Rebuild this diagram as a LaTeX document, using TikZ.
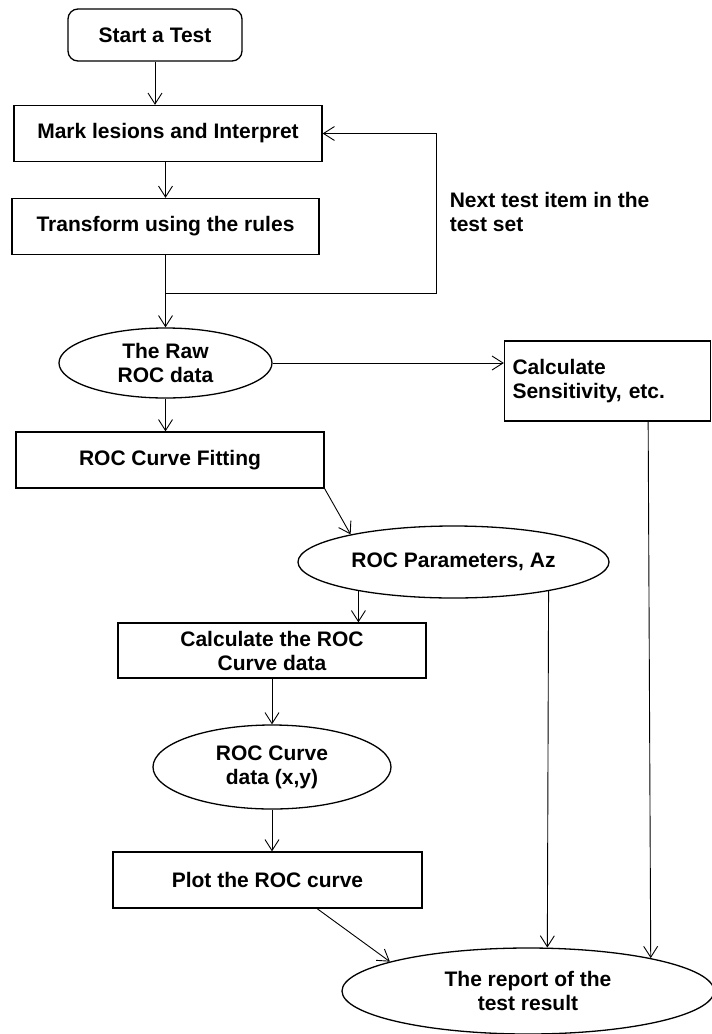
\documentclass[tikz,border=0pt]{standalone}
\usepackage{fontspec}
\setmainfont{Liberation Sans}
\usetikzlibrary{shapes.geometric,arrows.meta}
\tikzset{
	box/.style={draw, line width=1.3pt, minimum width=#1, minimum height=56pt, inner sep=2pt, align=center},
	startbox/.style={draw, line width=1.3pt, rounded corners=10pt, minimum width=174pt, minimum height=52pt},
	oval/.style 2 args={ellipse, draw, line width=1.3pt, minimum width=#1, minimum height=#2, inner sep=0pt, align=center},
}
\begin{document}
\begin{tikzpicture}[x=1pt,y=-1pt, line width=0.9pt, >={Straight Barb[length=11pt,width=14pt]},
		font=\fontsize{21}{24}\selectfont\bfseries]
			\useasboundingbox (0,0) rectangle (712,1034);
			% steps
			\node[startbox] (start) at (155,35) {Start a Test};
			\node[box=308pt] (mark) at (168,133.5) {Mark lesions and Interpret};
			\node[box=307pt] (transform) at (165.5,226.5) {Transform using the rules};
			\node[oval={213pt}{70pt}] (raw) at (165.5,363) {The Raw\\ROC data};
			\node[draw, line width=1.3pt, minimum height=80pt, text width=190pt, inner xsep=8pt, align=left] (sens) at (607.5,381) {Calculate\\Sensitivity, etc.};
			\node[box=308pt] (fit) at (170,460) {ROC Curve Fitting};
			\node[oval={311pt}{72pt}] (param) at (453.5,562) {ROC Parameters, Az};
			\node[box=308pt, minimum height=55pt] (calc) at (272,650.5) {Calculate the ROC\\Curve data};
			\node[oval={238pt}{84pt}] (curve) at (272,767) {ROC Curve\\data (x,y)};
			\node[box=309pt] (plot) at (267.5,880) {Plot the ROC curve};
			\node[oval={372pt}{86pt}] (report) at (528,991) {The report of the\\test result};
			\node[anchor=west, align=left] (nextlbl) at (446,212) {Next test item in the\\test set};
			% connectors
			\coordinate (loop) at (165.5,293);
			\coordinate (turn) at (436,133.5);
			\draw[->] (start.south) -- (start.south |- mark.north);
			\draw[->] (transform.north |- mark.south) -- (transform.north);
			\draw[->] (transform.south) -- (raw.north);
			\draw[->] (loop) -| (turn) -- (mark.east);
			\draw[->] (raw.east) -- (raw.east -| sens.west);
			\draw[->] (raw.south) -- (raw.south |- fit.north);
			\draw[->] (fit.south east) -- (param.165);
			\draw[->] (param.197) -- (param.197 |- calc.north);
			\draw[->] (calc.south) -- (curve.north);
			\draw[->] (curve.south) -- (curve.south |- plot.north);
			\draw[->] (plot.-30) -- (report.168);
			\draw[->] (param.-17) -- (report.66);
			\draw[->] (sens.-45) -- (report.15);
\end{tikzpicture}
\end{document}
